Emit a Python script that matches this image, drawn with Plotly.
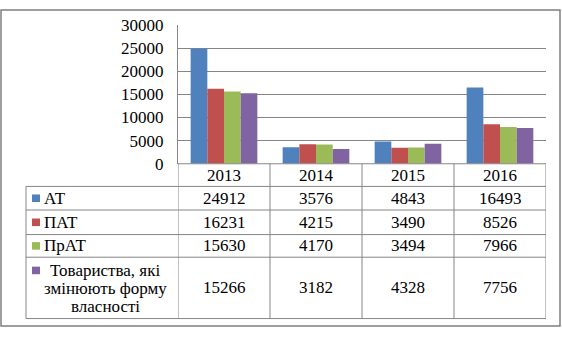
import plotly.graph_objects as go

# ---- data ----
years = ["2013", "2014", "2015", "2016"]
series_names = ["АТ", "ПАТ", "ПрАТ", "Товариства, які<br>змінюють форму<br>власності"]
at_vals = [24912, 3576, 4843, 16493]
pat_vals = [16231, 4215, 3490, 8526]
prat_vals = [15630, 4170, 3494, 7966]
tov_vals = [15266, 3182, 4328, 7756]
series_values = [at_vals, pat_vals, prat_vals, tov_vals]
colors = ["#4F81BD", "#C0504D", "#9BBB59", "#8064A2"]
y_ticks = [0, 5000, 10000, 15000, 20000, 25000, 30000]

W, H = 562, 338
FONT = "Liberation Serif, Times New Roman, Tinos, DejaVu Serif, serif"
FS = 17
GRID = "#868686"


def px(x):
    return x / W


def py(y):
    return 1 - y / H


# plot area in pixels
PL, PR, PT, PB = 178, 546, 17, 164
LEG_L = 26
row_edges = [164, 188, 213, 239, 263, 328]  # header, AT, PAT, PrAT, Tov

fig = go.Figure()
for name, vals, col in zip(series_names, series_values, colors):
    fig.add_trace(go.Bar(x=years, y=vals, name=name, marker_color=col,
                         marker_line_width=0, showlegend=False))

fig.update_layout(
    width=W, height=H, autosize=False,
    margin=dict(l=0, r=0, t=0, b=0),
    paper_bgcolor="white", plot_bgcolor="white",
    barmode="group", bargap=0.275, bargroupgap=0,
    font=dict(family=FONT, size=FS, color="black"),
    xaxis=dict(domain=[px(PL), px(PR)], range=[-0.5, 3.5], showticklabels=False,
               showline=False, showgrid=False, zeroline=False, ticks=""),
    yaxis=dict(domain=[py(PB), py(PT)], range=[0, 30000], tickvals=y_ticks,
               tickformat="d",
               showgrid=True, gridcolor=GRID, gridwidth=1, zeroline=False,
               showline=True, linecolor=GRID, linewidth=1, ticks="",
               ticklabelstandoff=10,
               tickfont=dict(family=FONT, size=FS, color="black")),
)

shapes = []
line = dict(color=GRID, width=1)
# horizontal table lines
shapes.append(dict(type="line", xref="paper", yref="paper",
                   x0=px(PL), x1=px(PR), y0=py(row_edges[0]), y1=py(row_edges[0]), line=line))
for ye in row_edges[1:]:
    shapes.append(dict(type="line", xref="paper", yref="paper",
                       x0=px(LEG_L), x1=px(PR), y0=py(ye), y1=py(ye), line=line))
# vertical table lines (category boundaries)
for i in range(len(years) + 1):
    shapes.append(dict(type="line", xref="x", yref="paper",
                       x0=i - 0.5, x1=i - 0.5, y0=py(row_edges[0]), y1=py(row_edges[-1]), line=line))
# left line of legend column
shapes.append(dict(type="line", xref="paper", yref="paper",
                   x0=px(LEG_L), x1=px(LEG_L), y0=py(row_edges[1]), y1=py(row_edges[-1]), line=line))
# outer frame
shapes.append(dict(type="rect", xref="paper", yref="paper",
                   x0=px(1), x1=px(W - 2), y0=py(H - 2), y1=py(1),
                   line=dict(color="#7f7f7f", width=1.5)))

annotations = []
# header years
hc = (row_edges[0] + row_edges[1]) / 2
for i, yr in enumerate(years):
    annotations.append(dict(x=i, y=py(hc), xref="x", yref="paper", text=yr,
                            showarrow=False, xanchor="center", yanchor="middle"))

# rows
for r, (name, vals, col) in enumerate(zip(series_names, series_values, colors)):
    top, bot = row_edges[r + 1], row_edges[r + 2]
    cy = (top + bot) / 2
    for i, v in enumerate(vals):
        annotations.append(dict(x=i, y=py(cy), xref="x", yref="paper", text=str(v),
                                showarrow=False, xanchor="center", yanchor="middle"))
    lines = name.split("<br>")
    if len(lines) == 1:
        ky = cy
        annotations.append(dict(x=px(42), y=py(cy), xref="paper", yref="paper", text=name,
                                showarrow=False, xanchor="left", yanchor="middle"))
    else:
        ky = 277
        for k, ln in enumerate(lines):
            annotations.append(dict(x=px(105), y=py(277 + 19 * k), xref="paper", yref="paper",
                                    text=ln, showarrow=False, xanchor="center", yanchor="middle"))
    shapes.append(dict(type="rect", xref="paper", yref="paper",
                       x0=px(32), x1=px(40), y0=py(ky + 4), y1=py(ky - 4),
                       fillcolor=col, line=dict(width=0)))

fig.update_layout(shapes=shapes, annotations=annotations)
fig.write_html("out.html")
